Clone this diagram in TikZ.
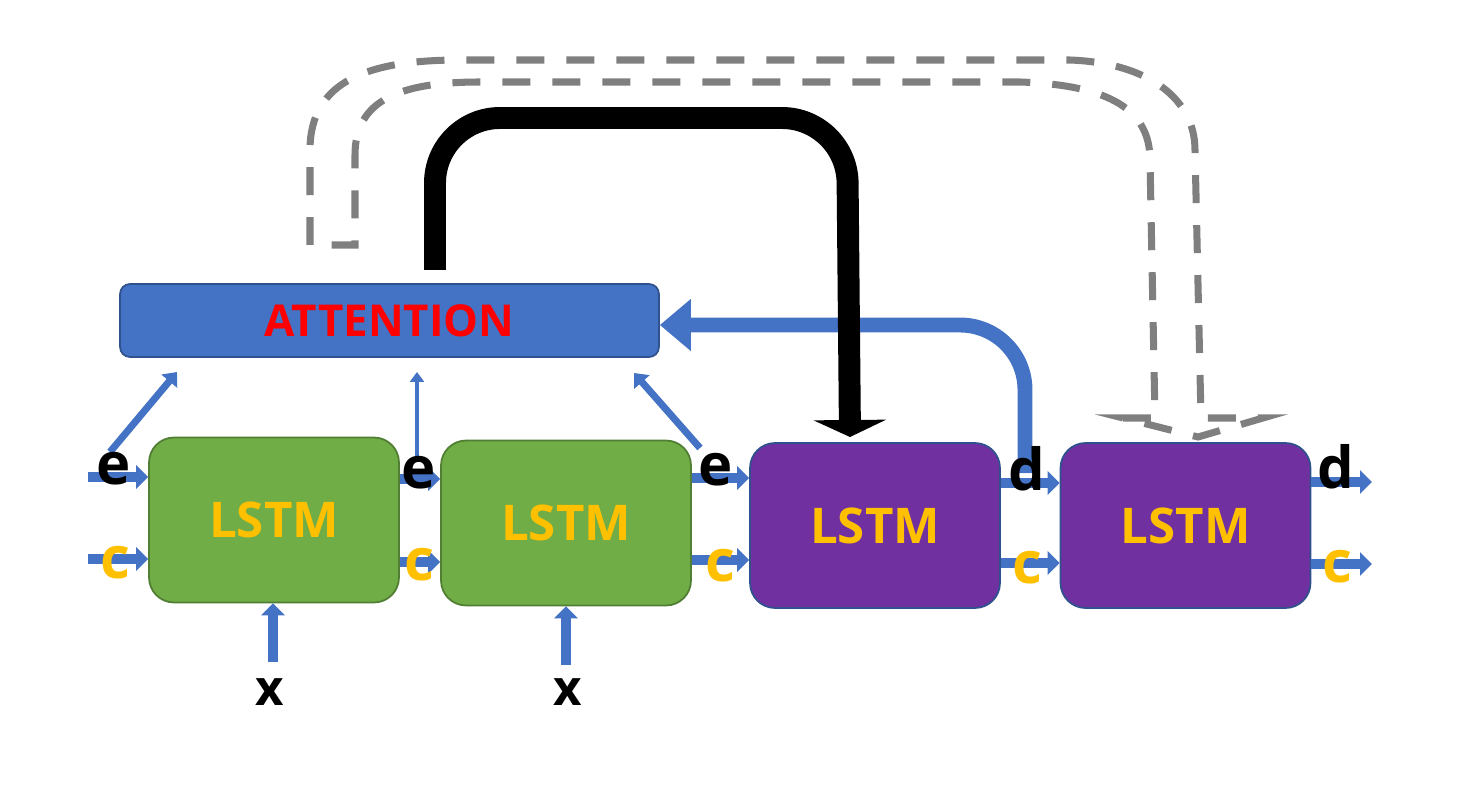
\documentclass[tikz,border=0pt]{standalone}
\usepackage{fontspec}
\setmainfont{Open Sans}
\usetikzlibrary{arrows.meta}

\definecolor{flowblue}{HTML}{4472C4}
\definecolor{attborder}{HTML}{2F528F}
\definecolor{encgreen}{HTML}{70AD47}
\definecolor{encborder}{HTML}{507E32}
\definecolor{decpurple}{HTML}{7030A0}
\definecolor{decborder}{HTML}{2F528F}
\definecolor{lstmyellow}{HTML}{FFC000}
\definecolor{ghostgray}{HTML}{7F7F7F}

\begin{document}
\begin{tikzpicture}[x=0.02cm, y=-0.02cm,
    cell/.style={rectangle, rounded corners=0.5cm, minimum width=5cm,
      minimum height=3.3cm, line width=1pt, text=lstmyellow,
      font=\fontsize{28}{28}\selectfont\bfseries},
    enc/.style={cell, fill=encgreen, draw=encborder},
    dec/.style={cell, fill=decpurple, draw=decborder},
    att/.style={rectangle, rounded corners=0.2cm, minimum width=10.78cm,
      minimum height=1.46cm, line width=1pt, fill=flowblue, draw=attborder,
      text=red, font=\fontsize{25}{25}\selectfont\bfseries},
    flow/.style={draw=flowblue, line width=5.5pt,
      -{Triangle[length=0.24cm, width=0.46cm]}},
    slim/.style={draw=flowblue, line width=4pt,
      -{Triangle[length=0.24cm, width=0.4cm]}},
    thread/.style={draw=flowblue, line width=2.8pt,
      -{Triangle[length=0.2cm, width=0.28cm]}},
    feedback/.style={draw=flowblue, line width=8.5pt, rounded corners=1.3cm,
      -{Triangle[length=0.62cm, width=1cm]}},
    jump/.style={draw=black, line width=12.5pt, rounded corners=1.3cm,
      -{Triangle[length=0.34cm, width=1.44cm]}},
    ghost/.style={draw=ghostgray, line width=4pt,
      dash pattern=on 0.56cm off 0.44cm},
    hlab/.style={inner sep=0pt, font=\fontsize{33}{33}\selectfont\bfseries},
    clab/.style={hlab, text=lstmyellow},
    xlab/.style={inner sep=0pt, font=\fontsize{28}{28}\selectfont\bfseries},
  ]
  \useasboundingbox (0,0) rectangle (1478,787);

  % hollow dashed arrow
  \draw[ghost] (310,245) -- (310,150) .. controls (310,80) and (370,60) .. (460,60)
    -- (1070,60) .. controls (1150,63) and (1195,100) .. (1195,150)
    -- (1201,418) -- (1263,418) -- (1198,437) -- (1123,418) -- (1155,418)
    -- (1150,160) .. controls (1150,110) and (1110,85) .. (1020,82)
    -- (480,82) .. controls (400,82) and (355,100) .. (355,155)
    -- (355,245) -- cycle;

  % blocks
  \node[att] (att) at (389.5,320.5) {ATTENTION};
  \node[enc] (enc1) at (274,520) {LSTM};
  \node[enc] (enc2) at (566,523) {LSTM};
  \node[dec] (dec1) at (875,525.5) {LSTM};
  \node[dec] (dec2) at (1185.5,525.5) {LSTM};

  % free ends
  \coordinate (ein) at (88,477);
  \coordinate (cin) at (88,559);
  \coordinate (dout) at (1372,482);
  \coordinate (cout) at (1372,564);
  \coordinate (xin1) at (273,662);
  \coordinate (xin2) at (566,665);
  \coordinate (up1) at (110,452);
  \coordinate (up1tip) at (177,372);
  \coordinate (up2) at (417,462);
  \coordinate (up2tip) at (417,372);
  \coordinate (up3) at (700,448);
  \coordinate (up3tip) at (634,373);
  \coordinate (dtap) at (1025,473);
  \coordinate (jfrom) at (435,270);
  \coordinate (jto) at (850,437);

  % state arrows
  \draw[flow] (ein) -- (ein -| enc1.west);
  \draw[flow] (cin) -- (cin -| enc1.west);
  \draw[flow] (enc1.east |- 0,479) -- (enc2.west |- 0,479);
  \draw[flow] (enc1.east |- 0,562) -- (enc2.west |- 0,562);
  \draw[flow] (enc2.east |- 0,478) -- (dec1.west |- 0,478);
  \draw[flow] (enc2.east |- 0,560) -- (dec1.west |- 0,560);
  \draw[flow] (dec1.east |- 0,483) -- (dec2.west |- 0,483);
  \draw[flow] (dec1.east |- 0,563) -- (dec2.west |- 0,563);
  \draw[flow] (dec2.east |- dout) -- (dout);
  \draw[flow] (dec2.east |- cout) -- (cout);
  \draw[flow] (xin1) -- (xin1 |- enc1.south);
  \draw[flow] (xin2) -- (xin2 |- enc2.south);

  % into attention
  \draw[slim] (up1) -- (up1tip);
  \draw[thread] (up2) -- (up2tip);
  \draw[slim] (up3) -- (up3tip);
  \draw[feedback] (dtap) |- (att.east |- 0,325);

  % context jump
  \draw[jump] (jfrom) -- (435,118) -- (847,118) -- (jto);

  % labels
  \node[hlab] (e1) at (114,469) {e};
  \node[hlab] (e2) at (419,473) {e};
  \node[hlab] (e3) at (716,470) {e};
  \node[hlab] (d1) at (1027,469) {d};
  \node[hlab] (d2) at (1336,467) {d};
  \node[clab] (c1) at (115,563) {c};
  \node[clab] (c2) at (419,565) {c};
  \node[clab] (c3) at (720,566) {c};
  \node[clab] (c4) at (1027,568) {c};
  \node[clab] (c5) at (1337,567) {c};
  \node[xlab] (x1) at (270,692) {x};
  \node[xlab] (x2) at (568,692) {x};
\end{tikzpicture}
\end{document}
